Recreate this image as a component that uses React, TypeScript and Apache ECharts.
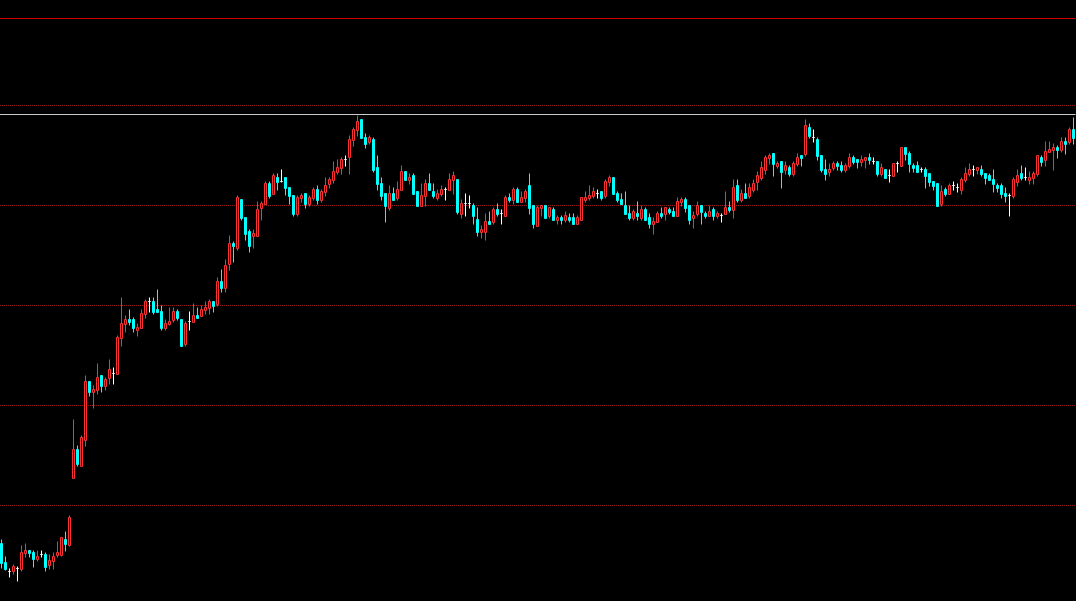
import { useEffect, useRef } from "react";
import * as echarts from "echarts";

// Candle values (price points), oldest first
const opens = [
  62, 43, 34, 34, 37, 36, 52, 55, 53, 46,
  51, 51, 40, 44, 50, 50, 66, 60, 127, 156,
  139, 165, 224, 213, 215, 230, 219, 227, 232, 231,
  267, 281, 286, 286, 275, 277, 291, 304, 304, 296,
  294, 277, 281, 285, 294, 286, 261, 284, 283, 290,
  289, 295, 297, 304, 301, 324, 317, 341, 362, 357,
  406, 388, 374, 369, 369, 397, 401, 422, 411, 428,
  424, 428, 418, 410, 391, 407, 412, 401, 407, 416,
  405, 413, 421, 425, 433, 437, 446, 448, 465, 475,
  486, 468, 463, 466, 438, 422, 412, 397, 412, 407,
  415, 434, 425, 430, 414, 399, 409, 422, 414, 407,
  411, 416, 415, 425, 426, 391, 402, 402, 400, 386,
  373, 373, 384, 383, 396, 392, 389, 408, 405, 416,
  403, 407, 420, 400, 379, 397, 400, 389, 396, 385,
  388, 385, 388, 388, 381, 385, 405, 407, 409, 412,
  414, 409, 423, 428, 412, 406, 400, 392, 387, 392,
  387, 396, 388, 381, 383, 392, 391, 396, 394, 389,
  403, 406, 400, 387, 391, 400, 392, 389, 396, 389,
  390, 391, 398, 395, 420, 405, 412, 409, 415, 423,
  427, 435, 447, 452, 439, 444, 435, 438, 431, 441,
  450, 451, 478, 468, 466, 450, 436, 433, 437, 442,
  440, 435, 439, 448, 446, 443, 445, 448, 444, 444,
  431, 436, 430, 429, 442, 439, 458, 452, 440, 440,
  436, 436, 432, 424, 422, 401, 416, 411, 420, 418,
  415, 425, 431, 436, 435, 436, 432, 430, 426, 420,
  420, 412, 410, 409, 423, 432, 428, 425, 427, 431,
  448, 445, 453, 455, 458, 455, 464, 463, 476,
];

const closes = [
  42, 36, 34, 39, 37, 53, 55, 52, 46, 49,
  51, 38, 45, 49, 53, 68, 61, 88, 156, 141,
  168, 224, 213, 216, 228, 219, 226, 236, 232, 268,
  282, 286, 283, 277, 278, 292, 304, 304, 293, 293,
  277, 282, 284, 294, 287, 259, 282, 284, 290, 287,
  296, 298, 304, 299, 324, 317, 340, 362, 359, 408,
  387, 371, 359, 372, 396, 402, 422, 409, 430, 423,
  424, 417, 409, 391, 408, 410, 401, 408, 416, 405,
  414, 420, 426, 434, 438, 446, 446, 466, 476, 484,
  467, 461, 468, 435, 421, 409, 399, 412, 405, 416,
  434, 425, 428, 411, 399, 410, 422, 415, 409, 412,
  416, 416, 426, 430, 393, 402, 402, 402, 389, 373,
  376, 384, 381, 396, 391, 392, 408, 405, 416, 403,
  408, 414, 397, 381, 398, 400, 387, 398, 385, 388,
  385, 390, 385, 381, 388, 408, 408, 410, 414, 412,
  407, 424, 428, 411, 405, 401, 391, 387, 394, 389,
  396, 385, 381, 384, 392, 389, 398, 393, 389, 404,
  406, 397, 385, 390, 400, 393, 389, 394, 389, 392,
  390, 398, 395, 418, 405, 412, 407, 418, 422, 430,
  438, 448, 450, 441, 442, 433, 440, 431, 442, 448,
  447, 480, 469, 468, 449, 435, 431, 436, 442, 439,
  435, 440, 448, 443, 443, 446, 448, 445, 444, 431,
  438, 427, 430, 442, 442, 458, 451, 441, 437, 433,
  436, 429, 423, 419, 399, 414, 411, 420, 420, 418,
  426, 432, 436, 436, 438, 431, 427, 425, 421, 417,
  411, 409, 410, 426, 430, 427, 428, 428, 432, 450,
  443, 454, 456, 458, 455, 464, 461, 476, 467,
];

const lows = [
  37, 35, 28, 31, 24, 34, 48, 48, 38, 44,
  48, 34, 36, 36, 48, 49, 54, 59, 127, 139,
  139, 159, 209, 197, 211, 213, 215, 221, 221, 231,
  259, 273, 280, 273, 269, 277, 287, 293, 291, 293,
  275, 275, 280, 283, 285, 259, 259, 275, 283, 287,
  289, 291, 291, 293, 299, 313, 313, 335, 343, 355,
  385, 365, 353, 357, 369, 385, 401, 407, 411, 415,
  423, 410, 401, 389, 389, 403, 397, 399, 405, 401,
  403, 409, 417, 422, 431, 431, 439, 431, 459, 469,
  467, 457, 461, 433, 415, 405, 383, 395, 405, 405,
  415, 425, 421, 411, 399, 399, 399, 415, 407, 405,
  409, 405, 415, 411, 391, 387, 389, 397, 381, 369,
  367, 365, 381, 381, 389, 381, 389, 403, 401, 403,
  403, 403, 391, 377, 379, 389, 387, 387, 385, 381,
  381, 383, 383, 381, 381, 385, 403, 405, 407, 407,
  405, 407, 419, 411, 403, 401, 391, 385, 385, 385,
  385, 385, 377, 371, 383, 387, 385, 391, 389, 389,
  399, 393, 381, 377, 389, 381, 387, 389, 385, 387,
  383, 391, 393, 387, 403, 403, 407, 407, 413, 415,
  425, 431, 441, 429, 437, 417, 431, 429, 429, 439,
  439, 449, 467, 463, 445, 433, 425, 429, 435, 435,
  433, 433, 437, 441, 437, 439, 437, 441, 441, 429,
  429, 427, 423, 429, 433, 439, 445, 433, 433, 433,
  433, 417, 419, 415, 399, 399, 409, 411, 415, 413,
  411, 423, 429, 429, 431, 429, 421, 425, 413, 413,
  407, 403, 389, 407, 419, 425, 425, 421, 421, 429,
  439, 439, 453, 435, 447, 453, 451, 461, 461,
];

const highs = [
  66, 49, 37, 41, 39, 60, 62, 55, 55, 55,
  55, 53, 51, 53, 64, 68, 74, 90, 186, 160,
  170, 230, 224, 220, 242, 230, 228, 246, 238, 270,
  308, 290, 296, 288, 282, 296, 306, 308, 308, 316,
  300, 286, 298, 298, 296, 286, 284, 294, 302, 298,
  300, 304, 306, 304, 328, 336, 346, 370, 364, 410,
  406, 388, 376, 376, 404, 404, 424, 424, 432, 432,
  436, 428, 418, 410, 410, 412, 412, 410, 418, 420,
  416, 428, 428, 444, 446, 448, 450, 470, 478, 490,
  486, 472, 470, 468, 450, 428, 412, 420, 418, 424,
  440, 434, 432, 432, 414, 422, 426, 432, 422, 416,
  420, 418, 432, 434, 426, 406, 412, 410, 402, 398,
  380, 392, 394, 398, 402, 396, 410, 412, 418, 418,
  414, 416, 432, 400, 400, 400, 400, 398, 398, 390,
  390, 394, 392, 392, 390, 408, 414, 420, 418, 416,
  414, 426, 430, 428, 414, 412, 414, 400, 396, 404,
  400, 398, 392, 388, 394, 398, 398, 398, 398, 408,
  408, 408, 400, 394, 404, 400, 394, 400, 398, 394,
  392, 414, 404, 426, 426, 416, 422, 422, 426, 434,
  444, 450, 452, 452, 444, 444, 444, 440, 444, 452,
  450, 486, 482, 476, 468, 450, 446, 442, 444, 444,
  444, 442, 452, 450, 446, 450, 448, 452, 448, 444,
  442, 436, 436, 442, 444, 458, 458, 454, 442, 444,
  438, 438, 432, 424, 422, 420, 418, 422, 424, 422,
  428, 438, 442, 440, 438, 440, 432, 432, 436, 422,
  422, 418, 412, 428, 436, 440, 438, 434, 434, 450,
  450, 464, 464, 462, 460, 468, 468, 478, 488,
];

// Horizontal levels drawn across the chart
const redLevel = 587;
const whiteLevel = 491;

const barLabels = opens.map((_, i) => String(i + 1));

const UP_BORDER = "#ff3030";
const DOWN = "#00ffff";
const DOJI = "#ffffff";

const PRICE_MIN = 0;
const PRICE_MAX = 599;
const PRICE_STEP = 100;

export default function App() {
  const ref = useRef<HTMLDivElement>(null);

  useEffect(() => {
    document.body.style.margin = "0";
    document.body.style.background = "#000";
    const chart = echarts.init(ref.current!, null, { renderer: "svg" });

    const data = opens.map((o, i) => {
      const value = [o, closes[i], lows[i], highs[i]];
      if (o === closes[i]) {
        return {
          value,
          itemStyle: {
            color: DOJI,
            color0: DOJI,
            borderColor: DOJI,
            borderColor0: DOJI,
            borderColorDoji: DOJI,
          },
        };
      }
      return value;
    });

    const hidden = {
      axisLine: { show: false },
      axisTick: { show: false },
      axisLabel: { show: false },
    };

    chart.setOption({
      animation: false,
      backgroundColor: "#000000",
      grid: [
        // candles (half-pixel offset keeps the 1px wicks crisp)
        { left: -0.5, top: 6.5, width: 1076, height: 599, containLabel: false, outerBoundsMode: "none" },
        // dotted price grid
        { left: 0, top: 6.5, width: 1076, height: 599, containLabel: false, outerBoundsMode: "none" },
      ],
      xAxis: [
        { type: "category", gridIndex: 0, data: barLabels, boundaryGap: true, ...hidden, splitLine: { show: false } },
        { type: "value", gridIndex: 1, min: 0, max: 1, ...hidden, splitLine: { show: false } },
      ],
      yAxis: [
        {
          type: "value",
          gridIndex: 0,
          min: PRICE_MIN,
          max: PRICE_MAX,
          interval: PRICE_STEP,
          ...hidden,
          splitLine: { show: false },
        },
        {
          type: "value",
          gridIndex: 1,
          min: PRICE_MIN,
          max: PRICE_MAX,
          interval: PRICE_STEP,
          ...hidden,
          splitLine: {
            show: true,
            showMinLine: false,
            showMaxLine: false,
            lineStyle: { color: "#961818", width: 1, type: [1, 1] },
          },
        },
      ],
      series: [
        {
          type: "candlestick",
          xAxisIndex: 0,
          yAxisIndex: 0,
          data,
          barWidth: 2,
          itemStyle: {
            color: "#000000",
            color0: DOWN,
            borderColor: UP_BORDER,
            borderColor0: DOWN,
            borderColorDoji: DOJI,
            borderWidth: 1,
          },
          markLine: {
            silent: true,
            symbol: "none",
            label: { show: false },
            data: [
              { yAxis: redLevel, lineStyle: { color: "#d00000", width: 1, type: "solid" } },
              { yAxis: whiteLevel, lineStyle: { color: "#cccccc", width: 1, type: "solid" } },
            ],
          },
        },
      ],
    });

    return () => chart.dispose();
  }, []);

  return (
    <div
      ref={ref}
      style={{ position: "fixed", left: 0, top: 0, width: 1076, height: 601, background: "#000" }}
    />
  );
}
